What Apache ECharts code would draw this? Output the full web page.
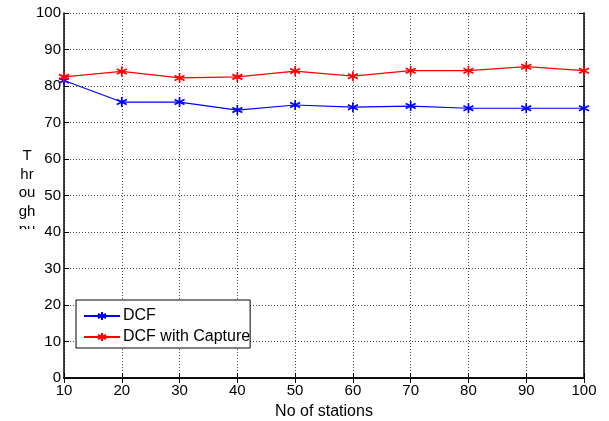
<!DOCTYPE html>
<html><head><meta charset="utf-8">
<script src="https://cdn.jsdelivr.net/npm/echarts@6/dist/echarts.min.js"></script>
<style>html,body{margin:0;padding:0;background:#fff}#c{width:609px;height:421px}</style>
</head><body><div id="c"></div>
<script>
const stations = [10, 20, 30, 40, 50, 60, 70, 80, 90, 100];
const dcf = [81.5, 75.6, 75.6, 73.4, 74.8, 74.2, 74.5, 73.9, 73.9, 73.9];
const dcfCapture = [82.5, 84.0, 82.2, 82.5, 84.1, 82.7, 84.2, 84.2, 85.3, 84.2];
const xTicks = [10, 20, 30, 40, 50, 60, 70, 80, 90, 100];
const yTicks = [0, 10, 20, 30, 40, 50, 60, 70, 80, 90, 100];

const FONT = 'Liberation Sans';
const star = 'path://M0,-10L0,10M-8.66,-5L8.66,5M-8.66,5L8.66,-5';
const chart = echarts.init(document.getElementById('c'));
function mk(name, vals, color) {
  return {
    name, type: 'line', data: stations.map((s, i) => [s, vals[i]]),
    symbol: star, symbolSize: 10, showSymbol: true,
    lineStyle: { color, width: 1.2 },
    itemStyle: { color: 'none', borderColor: color, borderWidth: 1.7 },
    emphasis: { disabled: true }, animation: false
  };
}
const axText = { color: '#000', fontFamily: FONT, fontSize: 15 };
chart.setOption({
  animation: false,
  grid: { left: 64, right: 25, top: 13, bottom: 43, outerBoundsMode: 'none', containLabel: false },
  legend: {
    left: 76, top: 300, orient: 'vertical', itemWidth: 36, itemHeight: 10, itemGap: 5,
    padding: [8, 0, 3, 7], backgroundColor: '#fff', borderColor: '#000', borderWidth: 1,
    textStyle: { fontFamily: FONT, fontSize: 16, color: '#000', padding: [0, 0, 0, -2], width: 155 },
    data: ['DCF', 'DCF with Capture']
  },
  xAxis: [{
    type: 'value', min: 10, max: 100, interval: 10,
    name: 'No of stations', nameLocation: 'middle', nameGap: 26,
    nameTextStyle: { ...axText, fontSize: 16 },
    axisLine: { lineStyle: { color: '#000', width: 1.5 } },
    axisTick: { inside: true, length: 5, lineStyle: { color: '#000' } },
    axisLabel: { ...axText, margin: 5 },
    splitLine: { show: true, lineStyle: { color: '#444', type: [1, 2], width: 1 } }
  }, {
    type: 'value', min: 10, max: 100, interval: 10, position: 'top',
    axisLine: { show: true, lineStyle: { color: '#000', width: 1.5 } },
    axisTick: { show: true, inside: true, length: 5, lineStyle: { color: '#000' } },
    axisLabel: { show: false }, splitLine: { show: false }
  }],
  yAxis: [{
    type: 'value', min: 0, max: 100, interval: 10,
    axisLine: { show: true, lineStyle: { color: '#000', width: 1.5 } },
    axisTick: { show: true, inside: true, length: 5, lineStyle: { color: '#000' } },
    axisLabel: { ...axText, margin: 3 },
    splitLine: { show: true, lineStyle: { color: '#444', type: [1, 2], width: 1 } }
  }, {
    type: 'value', min: 0, max: 100, interval: 10, position: 'right',
    axisLine: { show: true, lineStyle: { color: '#000', width: 1.5 } },
    axisTick: { show: true, inside: true, length: 5, lineStyle: { color: '#000' } },
    axisLabel: { show: false }, splitLine: { show: false }
  }],
  graphic: [
    { type: 'text', x: 27, y: 147, z: 10,
      style: { text: 'T\nhr\nou\ngh\npu', fill: '#000', font: '15px "Liberation Sans"', lineHeight: 18.5, textAlign: 'center' } },
    { type: 'rect', x: 10, y: 229, z: 11, shape: { width: 30, height: 20 }, style: { fill: '#fff' } }
  ],
  series: [mk('DCF', dcf, '#0000ff'), mk('DCF with Capture', dcfCapture, '#ff0000')]
});
</script></body></html>
